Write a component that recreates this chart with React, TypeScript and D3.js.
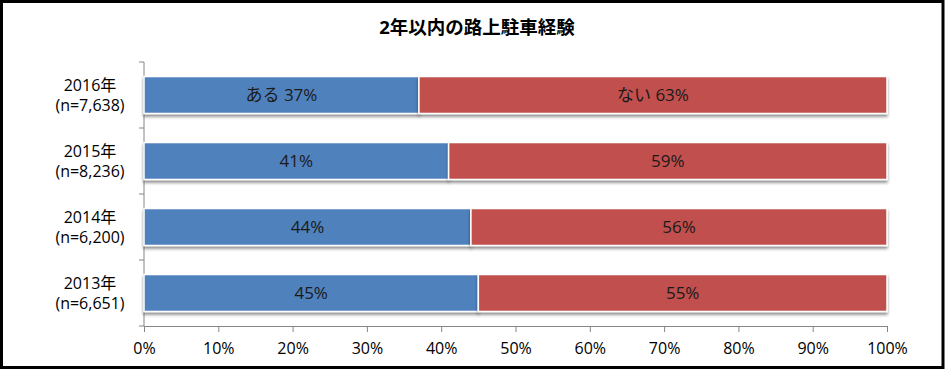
import React, { useRef, useEffect } from 'react'
import * as d3 from 'd3'

const years = ['2016年', '2015年', '2014年', '2013年']
const sampleSizes = ['(n=7,638)', '(n=8,236)', '(n=6,200)', '(n=6,651)']
const yesValues = [37, 41, 44, 45]
const noValues = [63, 59, 56, 55]
const seriesNames = ['ある', 'ない']
const seriesColors = ['#4F81BD', '#C0504D']
const xTicks = [0, 10, 20, 30, 40, 50, 60, 70, 80, 90, 100]

const W = 946
const H = 371
const FONT = "'Open Sans', 'Noto Sans CJK JP', sans-serif"

export default function App() {
  const ref = useRef<SVGSVGElement>(null)

  useEffect(() => {
    if (!ref.current) return
    const svg = d3.select(ref.current)
    svg.selectAll('*').remove()

    const margin = { top: 62, right: 59, bottom: 45, left: 144 }
    const innerW = W - margin.left - margin.right
    const innerH = H - margin.top - margin.bottom

    const defs = svg.append('defs')
    const filt = defs.append('filter').attr('id', 'shadow')
      .attr('x', '-5%').attr('y', '-20%').attr('width', '110%').attr('height', '160%')
    filt.append('feDropShadow')
      .attr('dx', 0).attr('dy', 2.5).attr('stdDeviation', 1.5)
      .attr('flood-color', '#000').attr('flood-opacity', 0.45)

    // chart frame
    svg.append('rect')
      .attr('x', 1.5).attr('y', 1.5)
      .attr('width', W - 4.5).attr('height', H - 5)
      .attr('fill', '#fff').attr('stroke', '#000').attr('stroke-width', 3)

    svg.append('text')
      .attr('x', 477).attr('y', 34)
      .attr('text-anchor', 'middle')
      .attr('font-family', FONT).attr('font-size', 18.5).attr('font-weight', 'bold')
      .attr('fill', '#000')
      .text('2年以内の路上駐車経験')

    const g = svg.append('g').attr('transform', `translate(${margin.left},${margin.top})`)

    const x = d3.scaleLinear().domain([0, 100]).range([0, innerW])
    const y = d3.scaleBand<string>().domain(years).range([0, innerH]).paddingInner(0.44).paddingOuter(0.22)

    // x axis
    const xAxis = g.append('g').attr('transform', `translate(0,${innerH})`)
      .call(d3.axisBottom(x).tickValues(xTicks).tickFormat(d => `${d}%`).tickSize(6).tickSizeOuter(0))
    xAxis.select('.domain').attr('stroke', '#868686')
    xAxis.selectAll('.tick line').attr('stroke', '#868686')
    xAxis.selectAll('.tick text')
      .attr('font-family', FONT).attr('font-size', 16).attr('fill', '#000').attr('dy', '1.2em')

    // y axis: ticks between categories
    const yLine = g.append('g')
    yLine.append('line').attr('x1', 0).attr('x2', 0).attr('y1', 0).attr('y2', innerH).attr('stroke', '#868686')
    const step = innerH / years.length
    d3.range(years.length + 1).forEach(i => {
      yLine.append('line')
        .attr('x1', -5).attr('x2', 0)
        .attr('y1', i * step).attr('y2', i * step)
        .attr('stroke', '#868686')
    })

    const labels = g.append('g')
    years.forEach((yr, i) => {
      const cy = (y(yr) as number) + y.bandwidth() / 2
      labels.append('text')
        .attr('x', -54).attr('y', cy - 4)
        .attr('text-anchor', 'middle')
        .attr('font-family', FONT).attr('font-size', 16).attr('fill', '#000')
        .text(yr)
      labels.append('text')
        .attr('x', -54).attr('y', cy + 16)
        .attr('text-anchor', 'middle')
        .attr('font-family', FONT).attr('font-size', 16).attr('fill', '#000')
        .text(sampleSizes[i])
    })

    const stacked = years.map((yr, i) => [
      { yr, name: seriesNames[0], x0: 0, x1: yesValues[i], v: yesValues[i], c: seriesColors[0], first: i === 0 },
      { yr, name: seriesNames[1], x0: yesValues[i], x1: yesValues[i] + noValues[i], v: noValues[i], c: seriesColors[1], first: i === 0 },
    ]).flat()

    g.append('g').selectAll('rect')
      .data(stacked)
      .join('rect')
      .attr('x', d => x(d.x0))
      .attr('y', d => y(d.yr) as number)
      .attr('width', d => x(d.x1) - x(d.x0))
      .attr('height', y.bandwidth())
      .attr('fill', d => d.c)
      .attr('stroke', '#fff').attr('stroke-width', 1.5)
      .attr('filter', 'url(#shadow)')

    g.append('g').selectAll('text')
      .data(stacked)
      .join('text')
      .attr('x', d => (x(d.x0) + x(d.x1)) / 2)
      .attr('y', d => (y(d.yr) as number) + y.bandwidth() / 2)
      .attr('dy', '0.36em')
      .attr('text-anchor', 'middle')
      .attr('font-family', FONT).attr('font-size', 17).attr('fill', '#1a1a1a')
      .text(d => d.first ? `${d.name} ${d.v}%` : `${d.v}%`)
  }, [])

  return <svg ref={ref} width={W} height={H} style={{ display: 'block', position: 'absolute', left: 0, top: 0 }} />
}
